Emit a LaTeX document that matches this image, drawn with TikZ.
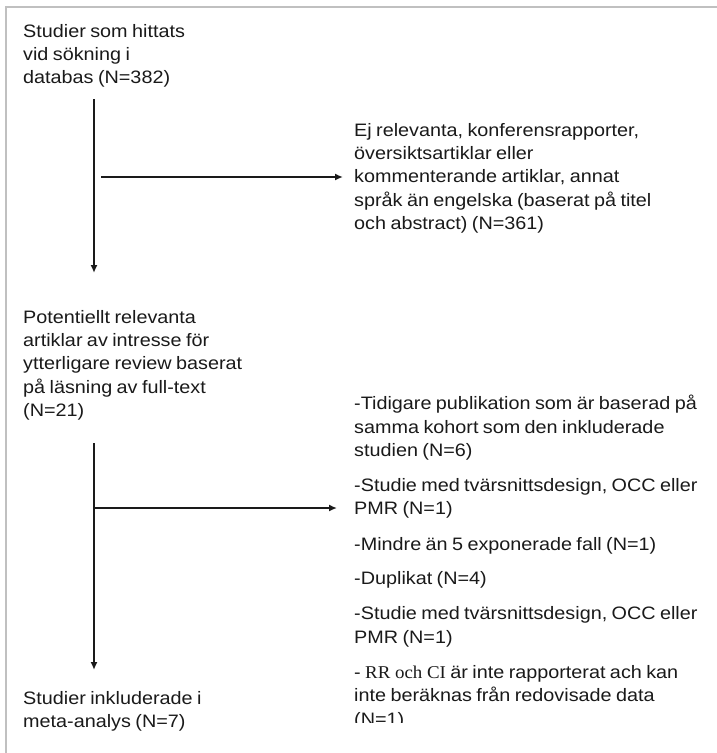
\documentclass[tikz,border=0pt]{standalone}
\usepackage{fontspec}
\setmainfont{Liberation Sans}[FakeStretch=1.1,WordSpace=0.8]
\newfontfamily\rrserif{Liberation Serif}[FakeStretch=1.05]
\usetikzlibrary{arrows.meta}
\definecolor{ink}{HTML}{1A1A1A}
\definecolor{frame}{HTML}{C0C0C0}
\begin{document}
\begin{tikzpicture}[x=1pt,y=1pt,
  txt/.style={anchor=north west, inner sep=0pt, align=left, text=ink,
    font=\fontsize{18}{23.3}\selectfont},
  arr/.style={draw=ink, line width=2pt, -{Latex[length=8pt,width=7pt]}}]
\useasboundingbox (0,0) rectangle (717,-753);
\fill[white] (0,0) rectangle (717,-753);
\draw[frame, line width=2pt] (717,-7) -- (6,-7) -- (6,-753);

\node[txt] (a) at (23,-24) {Studier som hittats\\vid sökning i\\databas (N=382)};
\node[txt] (b) at (354,-123) {Ej relevanta, konferensrapporter,\\översiktsartiklar eller\\kommenterande artiklar, annat\\språk än engelska (baserat på titel\\och abstract) (N=361)};
\node[txt] (c) at (23,-310) {Potentiellt relevanta\\artiklar av intresse för\\ytterligare review baserat\\på läsning av full-text\\(N=21)};
\begin{scope}
\clip (340,-380) rectangle (717,-722.5);
\node[txt] (d) at (354,-395) {-Tidigare publikation som är baserad på\\samma kohort som den inkluderade\\studien (N=6)\\[12pt]-Studie med tvärsnittsdesign, OCC eller\\PMR (N=1)\\[12pt]-Mindre än 5 exponerade fall (N=1)\\[11pt]-Duplikat (N=4)\\[12pt]-Studie med tvärsnittsdesign, OCC eller\\PMR (N=1)\\[12pt]- {\rrserif\fontsize{18}{23.3}\selectfont RR och CI} är inte rapporterat ach kan\\inte beräknas från redovisade data\\(N=1)};
\end{scope}
\node[txt] (e) at (23,-691) {Studier inkluderade i\\meta-analys (N=7)};

\coordinate (v1s) at (94,-99);
\coordinate (v1e) at (94,-273);
\coordinate (h1s) at (101,-177);
\coordinate (v2s) at (94,-443);
\coordinate (v2e) at (94,-670);
\coordinate (h2s) at (94,-508);

\draw[arr] (v1s) -- (v1e);
\draw[arr, shorten >=11pt] (h1s) -- (h1s -| b.west);
\draw[arr] (v2s) -- (v2e);
\draw[arr, shorten >=17pt] (h2s) -- (h2s -| d.west);
\end{tikzpicture}
\end{document}
